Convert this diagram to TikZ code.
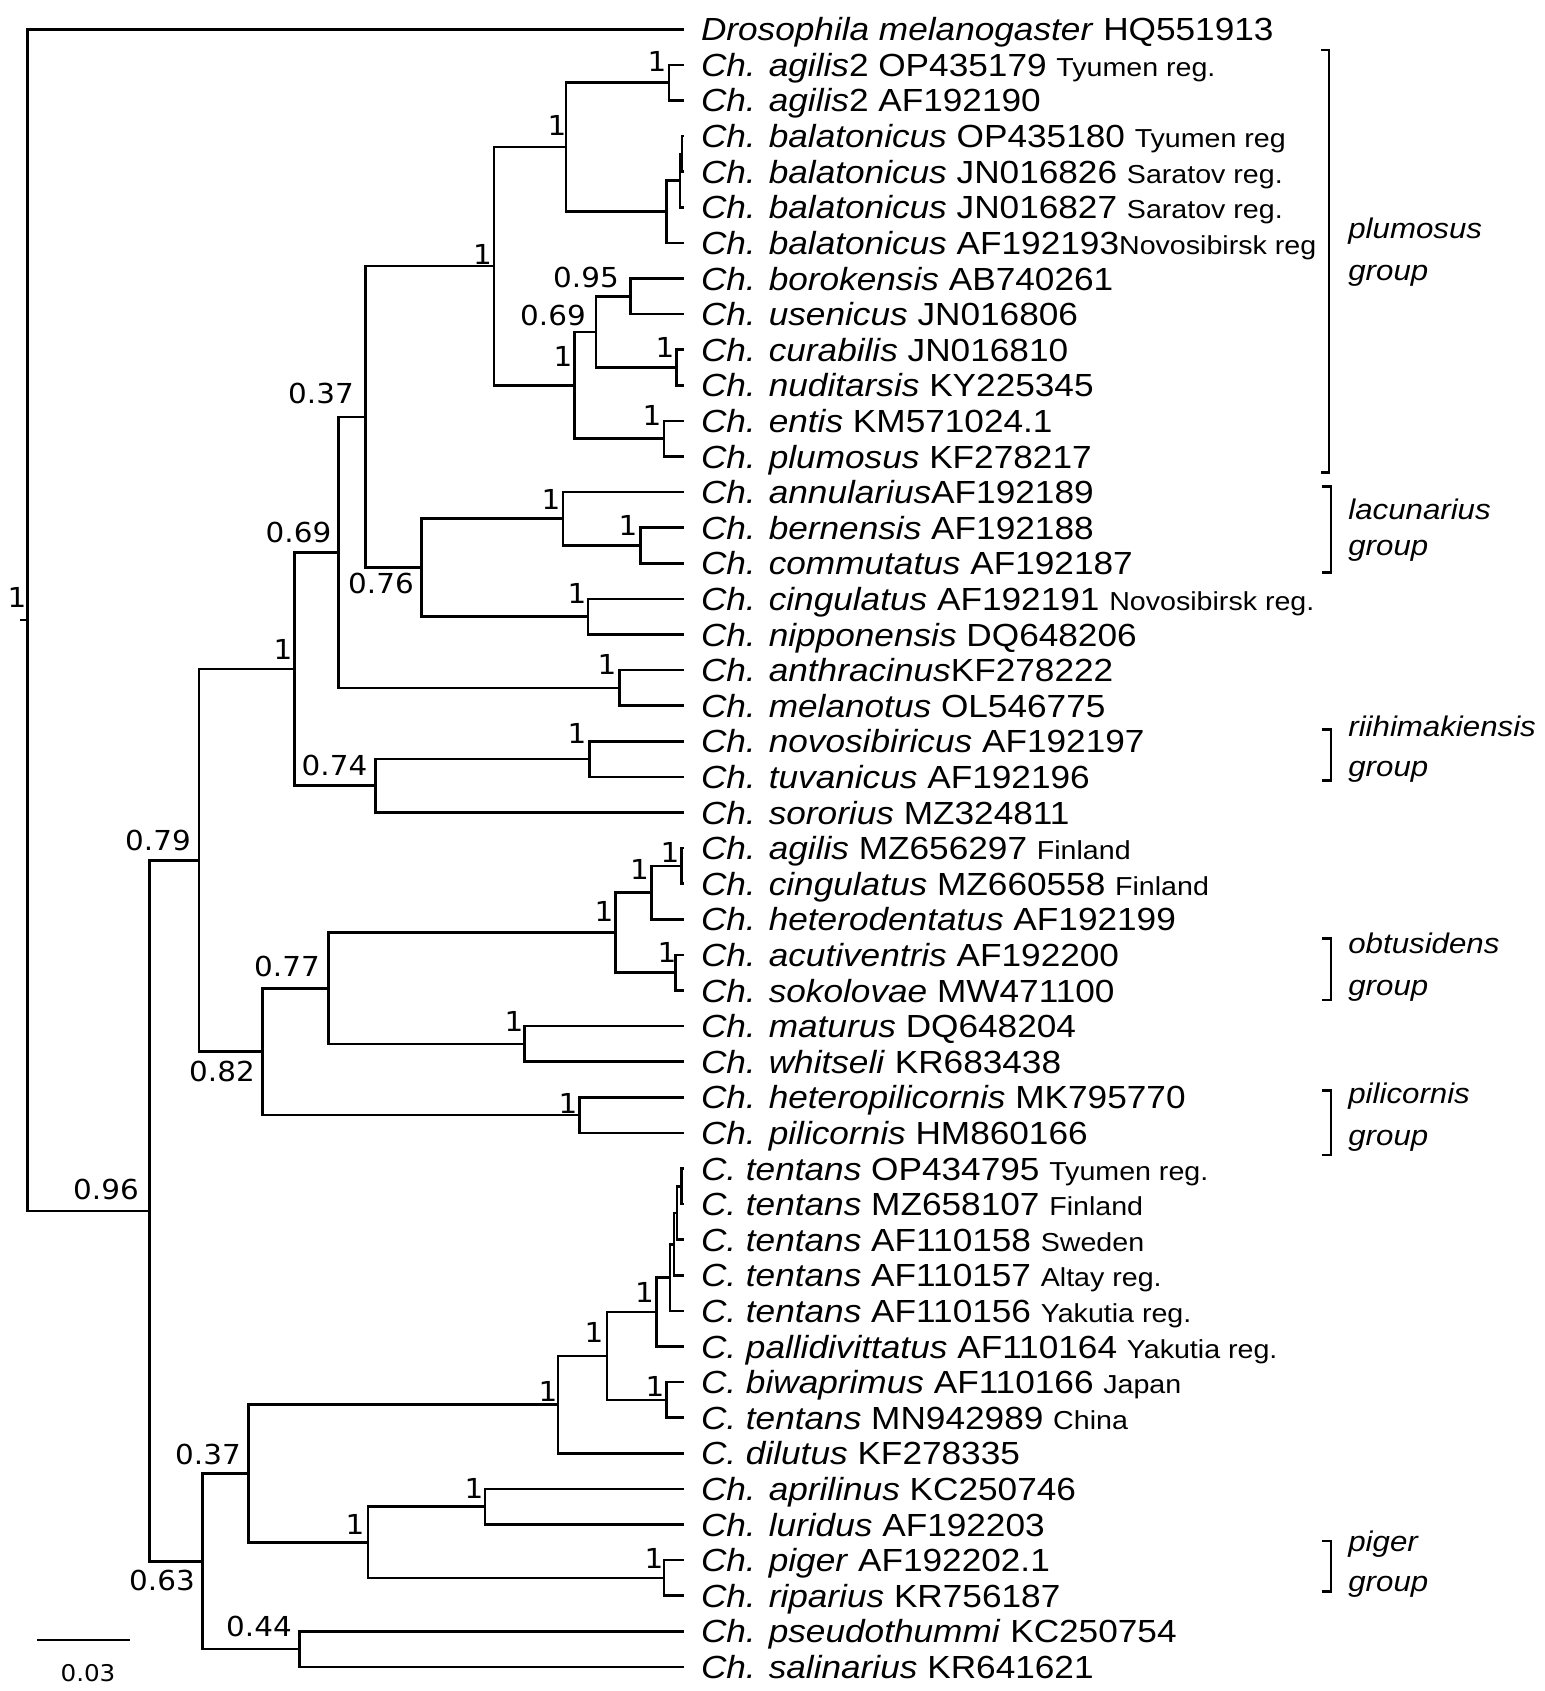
\documentclass[tikz,border=0pt]{standalone}
\usepackage{fontspec}
\newfontfamily\labfont{Liberation Sans}[FakeStretch=1.1]
\newfontfamily\supfont{DejaVu Sans}[FakeStretch=1.07]
\newcommand{\geo}[1]{{\fontsize{26}{30}\selectfont #1}}
\tikzset{
  leaf/.style={anchor=west, inner sep=0pt, outer xsep=17pt, text height=23pt, text depth=0pt,
    font=\labfont\fontsize{32}{36}\selectfont},
  sup/.style={inner sep=0pt, font=\supfont\fontsize{27.5}{30}\selectfont},
  grp/.style={anchor=base west, inner sep=0pt, font=\labfont\itshape\fontsize{28.4}{32}\selectfont}
}
\begin{document}
\begin{tikzpicture}[x=1pt, y=-1pt, line width=2.7pt]
  \useasboundingbox (0,0) rectangle (1544,1691);
  % taxa
  \node[leaf] (t1) at (684,29.3) {\textit{Drosophila melanogaster} HQ551913};
  \node[leaf] (t2) at (684,64.9) {\textit{Ch. agilis}2 OP435179 \geo{Tyumen reg.}};
  \node[leaf] (t3) at (684,100.5) {\textit{Ch. agilis}2 AF192190};
  \node[leaf] (t4) at (684,136.1) {\textit{Ch. balatonicus} OP435180 \geo{Tyumen reg}};
  \node[leaf] (t5) at (684,171.7) {\textit{Ch. balatonicus} JN016826 \geo{Saratov reg.}};
  \node[leaf] (t6) at (684,207.3) {\textit{Ch. balatonicus} JN016827 \geo{Saratov reg.}};
  \node[leaf] (t7) at (684,242.9) {\textit{Ch. balatonicus} AF192193\geo{Novosibirsk reg}};
  \node[leaf] (t8) at (684,278.5) {\textit{Ch. borokensis} AB740261};
  \node[leaf] (t9) at (684,314.1) {\textit{Ch. usenicus} JN016806};
  \node[leaf] (t10) at (684,349.7) {\textit{Ch. curabilis} JN016810};
  \node[leaf] (t11) at (684,385.3) {\textit{Ch. nuditarsis} KY225345};
  \node[leaf] (t12) at (684,420.9) {\textit{Ch. entis} KM571024.1};
  \node[leaf] (t13) at (684,456.5) {\textit{Ch. plumosus} KF278217};
  \node[leaf] (t14) at (684,492.1) {\textit{Ch. annularius}AF192189};
  \node[leaf] (t15) at (684,527.7) {\textit{Ch. bernensis} AF192188};
  \node[leaf] (t16) at (684,563.3) {\textit{Ch. commutatus} AF192187};
  \node[leaf] (t17) at (684,598.9) {\textit{Ch. cingulatus} AF192191 \geo{Novosibirsk reg.}};
  \node[leaf] (t18) at (684,634.5) {\textit{Ch. nipponensis} DQ648206};
  \node[leaf] (t19) at (684,670.1) {\textit{Ch. anthracinus}KF278222};
  \node[leaf] (t20) at (684,705.7) {\textit{Ch. melanotus} OL546775};
  \node[leaf] (t21) at (684,741.3) {\textit{Ch. novosibiricus} AF192197};
  \node[leaf] (t22) at (684,776.9) {\textit{Ch. tuvanicus} AF192196};
  \node[leaf] (t23) at (684,812.5) {\textit{Ch. sororius} MZ324811};
  \node[leaf] (t24) at (684,848.1) {\textit{Ch. agilis} MZ656297 \geo{Finland}};
  \node[leaf] (t25) at (684,883.7) {\textit{Ch. cingulatus} MZ660558 \geo{Finland}};
  \node[leaf] (t26) at (684,919.3) {\textit{Ch. heterodentatus} AF192199};
  \node[leaf] (t27) at (684,954.9) {\textit{Ch. acutiventris} AF192200};
  \node[leaf] (t28) at (684,990.5) {\textit{Ch. sokolovae} MW471100};
  \node[leaf] (t29) at (684,1026.1) {\textit{Ch. maturus} DQ648204};
  \node[leaf] (t30) at (684,1061.7) {\textit{Ch. whitseli} KR683438};
  \node[leaf] (t31) at (684,1097.3) {\textit{Ch. heteropilicornis} MK795770};
  \node[leaf] (t32) at (684,1132.9) {\textit{Ch. pilicornis} HM860166};
  \node[leaf] (t33) at (684,1168.5) {\textit{C. tentans} OP434795 \geo{Tyumen reg.}};
  \node[leaf] (t34) at (684,1204.1) {\textit{C. tentans} MZ658107 \geo{Finland}};
  \node[leaf] (t35) at (684,1239.7) {\textit{C. tentans} AF110158 \geo{Sweden}};
  \node[leaf] (t36) at (684,1275.3) {\textit{C. tentans} AF110157 \geo{Altay reg.}};
  \node[leaf] (t37) at (684,1310.9) {\textit{C. tentans} AF110156 \geo{Yakutia reg.}};
  \node[leaf] (t38) at (684,1346.5) {\textit{C. pallidivittatus} AF110164 \geo{Yakutia reg.}};
  \node[leaf] (t39) at (684,1382.1) {\textit{C. biwaprimus} AF110166 \geo{Japan}};
  \node[leaf] (t40) at (684,1417.7) {\textit{C. tentans} MN942989 \geo{China}};
  \node[leaf] (t41) at (684,1453.3) {\textit{C. dilutus} KF278335};
  \node[leaf] (t42) at (684,1488.9) {\textit{Ch. aprilinus} KC250746};
  \node[leaf] (t43) at (684,1524.5) {\textit{Ch. luridus} AF192203};
  \node[leaf] (t44) at (684,1560.1) {\textit{Ch. piger} AF192202.1};
  \node[leaf] (t45) at (684,1595.7) {\textit{Ch. riparius} KR756187};
  \node[leaf] (t46) at (684,1631.3) {\textit{Ch. pseudothummi} KC250754};
  \node[leaf] (t47) at (684,1666.9) {\textit{Ch. salinarius} KR641621};
  % internal nodes
  \coordinate (stub) at (20,620.1);
  \coordinate (root) at (27.4,620.1);
  \coordinate (n96) at (149.2,1210.85);
  \coordinate (n79) at (199,860.4);
  \coordinate (nR) at (294.5,669.1);
  \coordinate (n69b) at (338.3,552.4);
  \coordinate (n37) at (365.6,416.9);
  \coordinate (nP) at (494,266);
  \coordinate (nAB) at (566,146.9);
  \coordinate (nA2) at (669,82.7);
  \coordinate (nBal) at (666.6,211.75);
  \coordinate (nB456) at (680,180.6);
  \coordinate (nB45) at (682,153.9);
  \coordinate (nQ) at (574.6,385.15);
  \coordinate (n69a) at (596,331.9);
  \coordinate (n95) at (630.8,296.3);
  \coordinate (nCN) at (676.5,367.5);
  \coordinate (nEP) at (664,438.7);
  \coordinate (n76) at (421.8,567.75);
  \coordinate (nLac) at (563,518.8);
  \coordinate (nBC) at (640.2,545.5);
  \coordinate (nCNip) at (588,616.7);
  \coordinate (nAM) at (619.3,687.9);
  \coordinate (n74) at (375.6,785.8);
  \coordinate (nNT) at (589.5,759.1);
  \coordinate (n82) at (262.6,1051.65);
  \coordinate (n77) at (328.3,988.2);
  \coordinate (nObt) at (615.8,932.65);
  \coordinate (nACH) at (651.6,892.6);
  \coordinate (nAC) at (681.5,865.9);
  \coordinate (nAS) at (675.5,972.7);
  \coordinate (nMW) at (524.8,1043.9);
  \coordinate (nPil) at (579.5,1115.1);
  \coordinate (n63) at (202.5,1561.3);
  \coordinate (n37b) at (248.7,1473.5);
  \coordinate (nTdil) at (558,1404.65);
  \coordinate (nTpb) at (607,1355.95);
  \coordinate (nTp) at (656.6,1312);
  \coordinate (nT5) at (670,1277.5);
  \coordinate (nT4) at (674,1244.15);
  \coordinate (nT3) at (677,1213);
  \coordinate (nT12) at (681.5,1186.3);
  \coordinate (nBT) at (666.6,1399.9);
  \coordinate (nPg) at (368,1542.3);
  \coordinate (nAL) at (485,1506.7);
  \coordinate (nPR) at (664,1577.9);
  \coordinate (n44) at (299.5,1649.1);
  % branches
  \draw (stub) -- (root);
  \draw (root) |- (t1) (root) |- (n96);
  \draw (n96) |- (n79) (n96) |- (n63);
  \draw (n79) |- (nR) (n79) |- (n82);
  \draw (nR) |- (n69b) (nR) |- (n74);
  \draw (n69b) |- (n37) (n69b) |- (nAM);
  \draw (n37) |- (nP) (n37) |- (n76);
  \draw (nP) |- (nAB) (nP) |- (nQ);
  \draw (nAB) |- (nA2) (nAB) |- (nBal);
  \draw (nA2) |- (t2) (nA2) |- (t3);
  \draw (nBal) |- (nB456) (nBal) |- (t7);
  \draw (nB456) |- (nB45) (nB456) |- (t6);
  \draw (nB45) |- (t4) (nB45) |- (t5);
  \draw (nQ) |- (n69a) (nQ) |- (nEP);
  \draw (n69a) |- (n95) (n69a) |- (nCN);
  \draw (n95) |- (t8) (n95) |- (t9);
  \draw (nCN) |- (t10) (nCN) |- (t11);
  \draw (nEP) |- (t12) (nEP) |- (t13);
  \draw (n76) |- (nLac) (n76) |- (nCNip);
  \draw (nLac) |- (t14) (nLac) |- (nBC);
  \draw (nBC) |- (t15) (nBC) |- (t16);
  \draw (nCNip) |- (t17) (nCNip) |- (t18);
  \draw (nAM) |- (t19) (nAM) |- (t20);
  \draw (n74) |- (nNT) (n74) |- (t23);
  \draw (nNT) |- (t21) (nNT) |- (t22);
  \draw (n82) |- (n77) (n82) |- (nPil);
  \draw (n77) |- (nObt) (n77) |- (nMW);
  \draw (nObt) |- (nACH) (nObt) |- (nAS);
  \draw (nACH) |- (nAC) (nACH) |- (t26);
  \draw (nAC) |- (t24) (nAC) |- (t25);
  \draw (nAS) |- (t27) (nAS) |- (t28);
  \draw (nMW) |- (t29) (nMW) |- (t30);
  \draw (nPil) |- (t31) (nPil) |- (t32);
  \draw (n63) |- (n37b) (n63) |- (n44);
  \draw (n37b) |- (nTdil) (n37b) |- (nPg);
  \draw (nTdil) |- (nTpb) (nTdil) |- (t41);
  \draw (nTpb) |- (nTp) (nTpb) |- (nBT);
  \draw (nTp) |- (nT5) (nTp) |- (t38);
  \draw (nT5) |- (nT4) (nT5) |- (t37);
  \draw (nT4) |- (nT3) (nT4) |- (t36);
  \draw (nT3) |- (nT12) (nT3) |- (t35);
  \draw (nT12) |- (t33) (nT12) |- (t34);
  \draw (nBT) |- (t39) (nBT) |- (t40);
  \draw (nPg) |- (nAL) (nPg) |- (nPR);
  \draw (nAL) |- (t42) (nAL) |- (t43);
  \draw (nPR) |- (t44) (nPR) |- (t45);
  \draw (n44) |- (t46) (n44) |- (t47);
  % support values
  \node[sup] (sRoot) at (17,597) {1};
  \node[sup] (sA2) at (657,61) {1};
  \node[sup] (sAB) at (557,125) {1};
  \node[sup] (sP) at (482.5,254) {1};
  \node[sup] (s37) at (321,393) {0.37};
  \node[sup] (s95) at (586,277) {0.95};
  \node[sup] (s69a) at (553,315) {0.69};
  \node[sup] (sCN) at (665,347) {1};
  \node[sup] (sQ) at (563,356) {1};
  \node[sup] (sEP) at (652,415) {1};
  \node[sup] (s69b) at (298.5,532) {0.69};
  \node[sup] (s76) at (381,583) {0.76};
  \node[sup] (sLac) at (551,499) {1};
  \node[sup] (sBC) at (628,525) {1};
  \node[sup] (sCNip) at (577,593) {1};
  \node[sup] (sAM) at (607,664) {1};
  \node[sup] (sR) at (283,649) {1};
  \node[sup] (s74) at (334.5,765) {0.74};
  \node[sup] (sNT) at (577,733) {1};
  \node[sup] (s79) at (158,840) {0.79};
  \node[sup] (sAC) at (670,852) {1};
  \node[sup] (sACH) at (639.5,869) {1};
  \node[sup] (sObt) at (604,911) {1};
  \node[sup] (sAS) at (667,952) {1};
  \node[sup] (s77) at (287,966) {0.77};
  \node[sup] (sMW) at (514,1021) {1};
  \node[sup] (s82) at (222,1071) {0.82};
  \node[sup] (sPil) at (568,1103) {1};
  \node[sup] (s96) at (106,1189) {0.96};
  \node[sup] (sTp) at (644.5,1292) {1};
  \node[sup] (sTpb) at (594,1332) {1};
  \node[sup] (sBT) at (655,1386) {1};
  \node[sup] (sTdil) at (548,1391) {1};
  \node[sup] (s37b) at (208,1454) {0.37};
  \node[sup] (sAL) at (474,1488) {1};
  \node[sup] (sPg) at (355,1524) {1};
  \node[sup] (sPR) at (654,1558) {1};
  \node[sup] (s63) at (162,1580) {0.63};
  \node[sup] (s44) at (259,1626) {0.44};
  % groups
  \draw (1321,50) -- (1329,50) -- (1329,472.7) -- (1321,472.7);
  \node[grp] (gPlu) at (1347,238.3) {plumosus};
  \node[grp] (gPlu2) at (1347,280) {group};
  \draw (1322,486.7) -- (1331,486.7) -- (1331,572.7) -- (1322,572.7);
  \node[grp] (gLac) at (1347,519.3) {lacunarius};
  \node[grp] (gLac2) at (1347,555) {group};
  \draw (1322,729.3) -- (1331,729.3) -- (1331,780.7) -- (1322,780.7);
  \node[grp] (gRii) at (1347,736.7) {riihimakiensis};
  \node[grp] (gRii2) at (1347,776.7) {group};
  \draw (1322,938.3) -- (1331,938.3) -- (1331,1000) -- (1322,1000);
  \node[grp] (gObt) at (1347,953.3) {obtusidens};
  \node[grp] (gObt2) at (1347,995) {group};
  \draw (1322,1090.7) -- (1331,1090.7) -- (1331,1155) -- (1322,1155);
  \node[grp] (gPil) at (1347,1103.3) {pilicornis};
  \node[grp] (gPil2) at (1347,1145) {group};
  \draw (1322,1541) -- (1331,1541) -- (1331,1591.7) -- (1322,1591.7);
  \node[grp] (gPig) at (1347,1551.7) {piger};
  \node[grp] (gPig2) at (1347,1591.7) {group};
  % scale bar
  \draw (37,1640) -- (130,1640);
  \node[sup, font=\supfont\fontsize{23}{26}\selectfont] (bar) at (88,1673) {0.03};
\end{tikzpicture}
\end{document}
